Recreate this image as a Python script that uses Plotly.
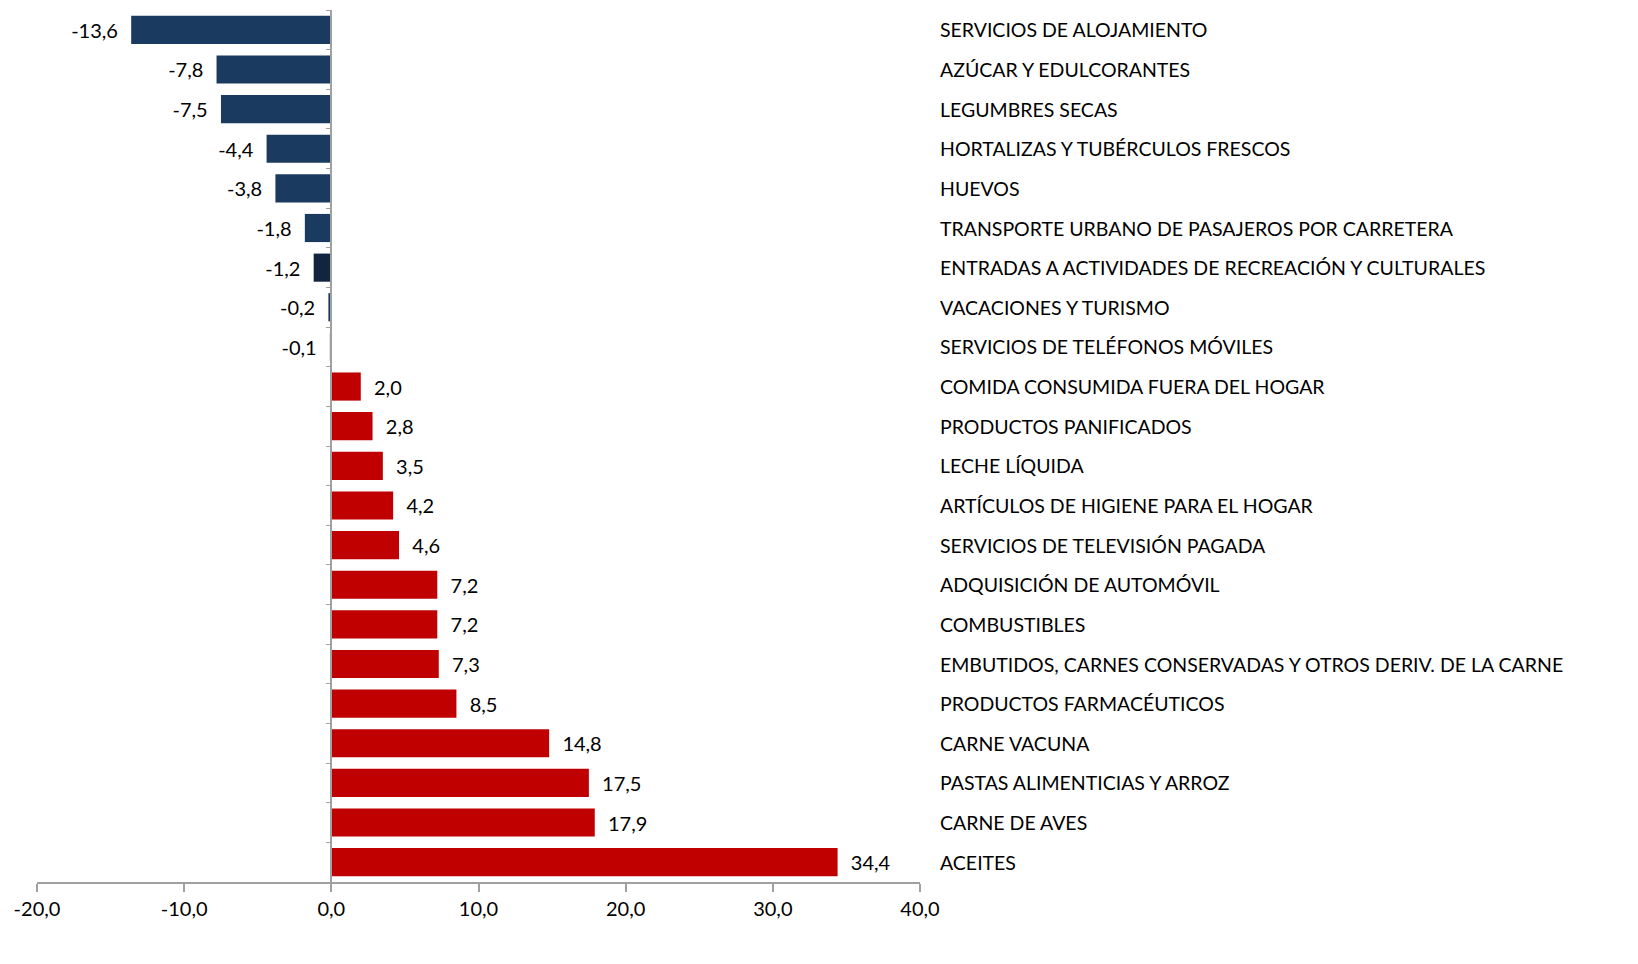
import plotly.graph_objects as go

categories = [
    "SERVICIOS DE ALOJAMIENTO",
    "AZÚCAR Y EDULCORANTES",
    "LEGUMBRES SECAS",
    "HORTALIZAS Y TUBÉRCULOS FRESCOS",
    "HUEVOS",
    "TRANSPORTE URBANO DE PASAJEROS POR CARRETERA",
    "ENTRADAS A ACTIVIDADES DE RECREACIÓN Y CULTURALES",
    "VACACIONES Y TURISMO",
    "SERVICIOS DE TELÉFONOS MÓVILES",
    "COMIDA CONSUMIDA FUERA DEL HOGAR",
    "PRODUCTOS PANIFICADOS",
    "LECHE LÍQUIDA",
    "ARTÍCULOS DE HIGIENE PARA EL HOGAR",
    "SERVICIOS DE TELEVISIÓN PAGADA",
    "ADQUISICIÓN DE AUTOMÓVIL",
    "COMBUSTIBLES",
    "EMBUTIDOS, CARNES CONSERVADAS Y OTROS DERIV. DE LA CARNE",
    "PRODUCTOS FARMACÉUTICOS",
    "CARNE VACUNA",
    "PASTAS ALIMENTICIAS Y ARROZ",
    "CARNE DE AVES",
    "ACEITES",
]
values = [-13.6, -7.8, -7.5, -4.4, -3.8, -1.8, -1.2, -0.2, -0.1,
          2.0, 2.8, 3.5, 4.2, 4.6, 7.2, 7.2, 7.3, 8.5, 14.8, 17.5, 17.9, 34.4]
x_ticks = [-20, -10, 0, 10, 20, 30, 40]
x_tick_labels = ["-20,0", "-10,0", "0,0", "10,0", "20,0", "30,0", "40,0"]

NEG = "#1B3A5F"
NEG_DARK = "#12253F"
POS = "#C00000"
colors = []
for c, v in zip(categories, values):
    if v < 0:
        colors.append(NEG_DARK if v == -1.2 else NEG)
    else:
        colors.append(POS)

def fmt(v):
    s = f"{v:.1f}".replace(".", ",")
    return ("  " + s) if v >= 0 else (s + "  ")

FONT = "Lato, 'Open Sans', sans-serif"

fig = go.Figure(go.Bar(
    x=values, y=categories, orientation="h",
    marker=dict(color=colors, line=dict(width=0)),
    text=[fmt(v) for v in values], textposition="outside",
    textfont=dict(family=FONT, size=20, color="#000000"),
    cliponaxis=False, width=0.71,
))

for c in categories:
    fig.add_annotation(x=1, xref="paper", y=c, yref="y", text=c,
                       xanchor="left", xshift=18, showarrow=False,
                       font=dict(family=FONT, size=19.5, color="#000000"))

fig.update_layout(
    width=1638, height=964,
    margin=dict(l=37, r=718, t=10, b=82),
    plot_bgcolor="white", paper_bgcolor="white",
    separators=",.",
    showlegend=False,
    font=dict(family=FONT, size=20, color="#000000"),
    xaxis=dict(range=[-20, 40], tickvals=x_ticks, ticktext=x_tick_labels,
               showgrid=False, zeroline=False, showline=True,
               linecolor="#A0A0A0", linewidth=1.5, ticks="outside",
               ticklen=8, tickcolor="#A0A0A0", tickwidth=1.5,
               tickfont=dict(family=FONT, size=20, color="#000000")),
    yaxis=dict(autorange="reversed", showticklabels=False, showgrid=False,
               zeroline=False, showline=True, linecolor="#A0A0A0",
               linewidth=1.5, ticks="outside", ticklen=5,
               tickcolor="#A0A0A0", tickson="boundaries",
               anchor="free", position=1/3),
)

fig.write_html("out.html", config={"displayModeBar": False},
               post_script="document.body.style.margin='0';document.body.style.overflow='hidden';")
